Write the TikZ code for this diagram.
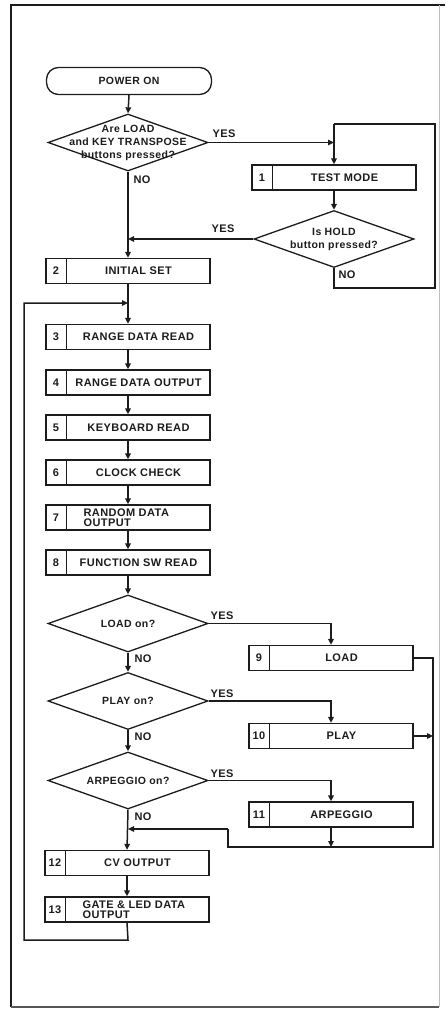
\documentclass[tikz,border=0pt]{standalone}
\usepackage{fontspec}
\setmainfont{Liberation Sans}[LetterSpace=4]
\usetikzlibrary{arrows.meta,shapes.geometric}
\definecolor{ink}{HTML}{1C1C1C}
\tikzset{
  ln/.style={line width=1.5pt, ink},
  arr/.style={ln, -{Triangle[length=6pt,width=5.5pt]}},
  pbox/.style={draw=ink, line width=1.3pt, minimum width=164pt, minimum height=25pt, inner sep=0pt},
  dmd/.style={draw=ink, diamond, line width=1.3pt, minimum width=160pt, minimum height=57pt, inner sep=0pt},
  txt/.style={font=\bfseries\fontsize{11}{10.5}\selectfont, inner sep=0pt, text=ink},
  dtxt/.style={font=\bfseries\fontsize{10.5}{13}\selectfont, align=center, inner sep=0pt, text=ink},
  yn/.style={font=\bfseries\fontsize{11}{11}\selectfont, inner sep=0pt, text=ink},
}
\newcommand\procbox[5]{%
  \node[pbox] (#1) at (#2,#3) {};
  \draw[line width=1.3pt, ink] ([xshift=21pt]#1.north west) -- ([xshift=21pt]#1.south west);
  \node[txt] (#1n) at ([xshift=10.5pt]#1.west) {#4};
  \node[txt] (#1t) at ([xshift=10.5pt]#1.center) {#5};
}
\newcommand\procboxl[5]{%
  \node[pbox] (#1) at (#2,#3) {};
  \draw[line width=1.3pt, ink] ([xshift=21pt]#1.north west) -- ([xshift=21pt]#1.south west);
  \node[txt] (#1n) at ([xshift=10.5pt]#1.west) {#4};
  \node[txt, align=left, anchor=west] (#1t) at ([xshift=38pt]#1.west) {#5};
}
\begin{document}
\begin{tikzpicture}[x=1pt,y=-1pt]
\useasboundingbox (0,0) rectangle (445,1010);
% frame
\draw[line width=1.4pt, ink] (445,5) -- (11,5) -- (11,1007);
\draw[line width=1.2pt, ink!75] (11,1007) -- (439,1007);
\draw[line width=0.8pt, black!25] (439,5) -- (439,1007);

% start
\node[draw=ink, line width=1.3pt, rounded corners=12pt, minimum width=165pt, minimum height=27pt, inner sep=0pt, font=\bfseries\fontsize{10.5}{11}\selectfont, text=ink] (po) at (129,81) {POWER ON};

% decision 1
\node[dmd] (d1) at (128,142.5) {};
\node[dtxt] (d1t) at (d1.center) {Are LOAD\\and KEY TRANSPOSE\\buttons pressed?};

% test mode
\procbox{t1}{334}{177.5}{1}{TEST MODE}
\node[dmd] (d2) at (334,239) {};
\node[dtxt] (d2t) at (d2.center) {Is HOLD\\button pressed?};

% main column
\procbox{b2}{128}{271}{2}{INITIAL SET}
\procbox{b3}{128}{337}{3}{RANGE DATA READ}
\procbox{b4}{128}{382.5}{4}{RANGE DATA OUTPUT}
\procbox{b5}{128}{427.5}{5}{KEYBOARD READ}
\procbox{b6}{128}{472.5}{6}{CLOCK CHECK}
\procboxl{b7}{128}{517.5}{7}{RANDOM DATA\\OUTPUT}
\procbox{b8}{128}{562.5}{8}{FUNCTION SW READ}

\node[dmd] (d3) at (128,623.5) {};
\node[dtxt] (d3t) at (d3.center) {LOAD on?};
\node[dmd] (d4) at (128,701) {};
\node[dtxt] (d4t) at (d4.center) {PLAY on?};
\node[dmd] (d5) at (128,780.5) {};
\node[dtxt] (d5t) at (d5.center) {ARPEGGIO on?};

\procbox{b9}{331}{658}{9}{LOAD}
\procbox{b10}{331}{736}{10}{PLAY}
\procbox{b11}{331}{814.5}{11}{ARPEGGIO}

\procbox{b12}{127}{863}{12}{CV OUTPUT}
\procboxl{b13}{127}{909.5}{13}{GATE \& LED DATA\\OUTPUT}

% coordinates
\coordinate (j1) at (334,142.5);
\coordinate (lt) at (334,124);
\coordinate (rt) at (435,124);
\coordinate (rb) at (435,288);
\coordinate (lb) at (334,288);
\coordinate (j2) at (128,303);
\coordinate (j3) at (128,239);
\coordinate (q1) at (128,940);
\coordinate (q2) at (24,940);
\coordinate (q3) at (24,303);
\coordinate (r1) at (433,658);
\coordinate (r2) at (433,847);
\coordinate (r3) at (228,847);
\coordinate (r4) at (228,829);
\coordinate (j4) at (128,829);

% connectors
\draw[arr] (po.south) -- (d1.north);
\draw[arr] (d1.east) -- (j1);
\draw[arr] (lt) -- (t1.north);
\draw[arr] (t1.south) -- (d2.north);
\draw[ln] (d2.south) -- (lb) -- (rb) -- (rt) -- (lt);
\draw[arr] (d2.west) -- (j3);
\draw[arr] (d1.south) -- (b2.north);
\draw[ln] (b2.south) -- (j2);
\draw[arr] (j2) -- (b3.north);
\draw[arr] (b3.south) -- (b4.north);
\draw[arr] (b4.south) -- (b5.north);
\draw[arr] (b5.south) -- (b6.north);
\draw[arr] (b6.south) -- (b7.north);
\draw[arr] (b7.south) -- (b8.north);
\draw[arr] (b8.south) -- (d3.north);
\draw[arr] (d3.south) -- (d4.north);
\draw[arr] (d4.south) -- (d5.north);
\draw[arr] (d5.south) -- (b12.north);
\draw[arr] (b12.south) -- (b13.north);
\draw[arr] (b13.south) -- (q1) -- (q2) -- (q3) -- (j2);
\draw[arr] (d3.east) -| (b9.north);
\draw[arr] (d4.east) -| (b10.north);
\draw[arr] (d5.east) -| (b11.north);
\draw[ln] (b9.east) -- (r1) -- (r2) -- (r3) -- (r4);
\draw[arr] (r4) -- (j4);
\draw[arr] (b10.east) -- (b10.east -| r1);
\draw[arr] (b11.south) -- (b11.south |- r2);

% labels
\node[yn] (y1) at (224,134) {YES};
\node[yn] (n1) at (142,180) {NO};
\node[yn] (y2) at (223,229) {YES};
\node[yn] (n2) at (347,275) {NO};
\node[yn] (y3) at (222,616) {YES};
\node[yn] (n3) at (143,659) {NO};
\node[yn] (y4) at (222,694) {YES};
\node[yn] (n4) at (143,737) {NO};
\node[yn] (y5) at (222,774) {YES};
\node[yn] (n5) at (143,817) {NO};
\end{tikzpicture}
\end{document}
